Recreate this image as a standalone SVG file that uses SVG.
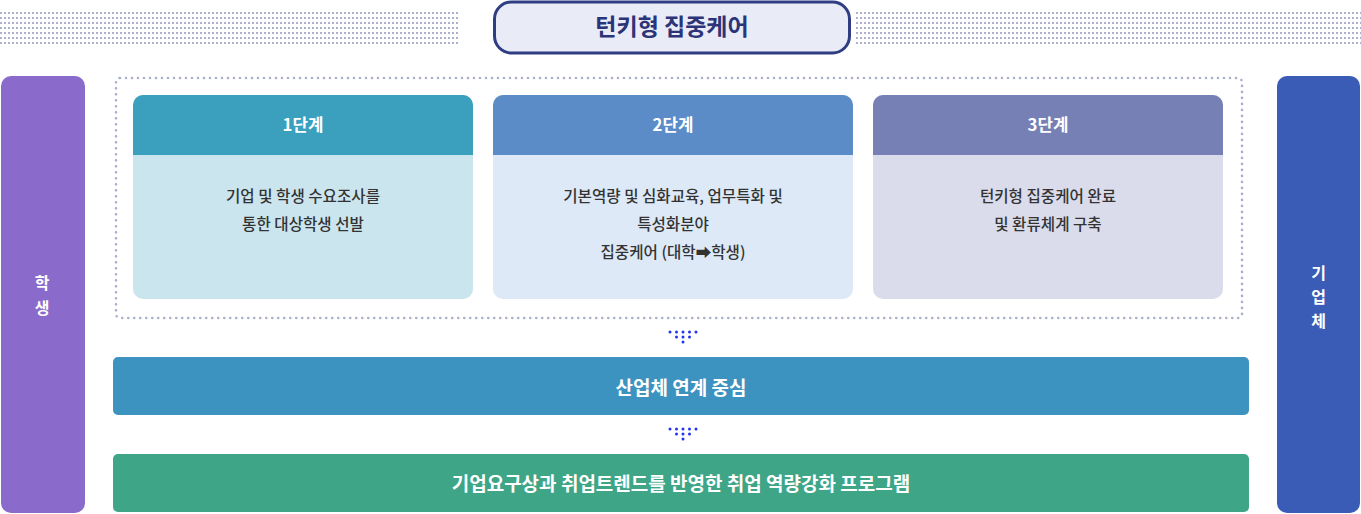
<svg xmlns="http://www.w3.org/2000/svg" width="1361" height="514" viewBox="0 0 1361 514">
<style>
.t{font-family:"Noto Sans CJK KR","Noto Sans",sans-serif;text-anchor:middle}
.hd{font-size:16.8px;font-weight:700;fill:#ffffff}
.bd{font-size:15.6px;font-weight:500;fill:#333333}
.bar{font-size:19px;font-weight:700;fill:#ffffff}
.side{font-size:16px;font-weight:700;fill:#ffffff}
.ad{fill:#2233ee}
</style>
<defs>
<pattern id="dots" x="0" y="12" width="4" height="5" patternUnits="userSpaceOnUse">
<rect x="0" y="0" width="2" height="2" fill="#abb0cf"/>
</pattern>
</defs>
<rect width="1361" height="514" fill="#ffffff"/>
<g id="title">
<rect x="0" y="12" width="460" height="33" fill="url(#dots)"/>
<rect x="855" y="12" width="506" height="33" fill="url(#dots)"/>
<rect x="494.5" y="2" width="355" height="51" rx="17" fill="#e9ebf6" stroke="#2f3d83" stroke-width="3"/>
<text class="t" x="672" y="35" font-size="23" font-weight="700" fill="#2b3478">턴키형 집중케어</text>
</g>
<g id="student">
<rect x="1" y="76" width="84" height="437" rx="10" fill="#8a6bcb"/>
<text class="t side" x="42" y="289">학</text>
<text class="t side" x="42" y="314">생</text>
</g>
<g id="company">
<rect x="1277" y="76" width="83" height="437" rx="10" fill="#3a5bb6"/>
<text class="t side" x="1318.5" y="279">기</text>
<text class="t side" x="1318.5" y="303">업</text>
<text class="t side" x="1318.5" y="327">체</text>
</g>
<g id="container">
<rect x="116" y="78" width="1126" height="240" rx="4" fill="none" stroke="#a8aecb" stroke-width="2.6" stroke-linecap="round" stroke-dasharray="0 6"/>
</g>
<g id="step1">
<rect x="133" y="95" width="340" height="204" rx="10" fill="#cbe5ef"/>
<path d="M133 155 V105 a10 10 0 0 1 10 -10 H463 a10 10 0 0 1 10 10 V155 Z" fill="#3aa0be"/>
<text class="t hd" x="303" y="131">1단계</text>
<text class="t bd" x="303" y="202">기업 및 학생 수요조사를</text>
<text class="t bd" x="303" y="230">통한 대상학생 선발</text>
</g>
<g id="step2">
<rect x="493" y="95" width="360" height="204" rx="10" fill="#dde9f7"/>
<path d="M493 155 V105 a10 10 0 0 1 10 -10 H843 a10 10 0 0 1 10 10 V155 Z" fill="#5b8cc8"/>
<text class="t hd" x="673" y="131">2단계</text>
<text class="t bd" x="673" y="202">기본역량 및 심화교육, 업무특화 및</text>
<text class="t bd" x="673" y="230">특성화분야</text>
<text class="t bd" x="673" y="258">집중케어 (대학➡학생)</text>
</g>
<g id="step3">
<rect x="873" y="95" width="350" height="204" rx="10" fill="#dadcec"/>
<path d="M873 155 V105 a10 10 0 0 1 10 -10 H1213 a10 10 0 0 1 10 10 V155 Z" fill="#7780b4"/>
<text class="t hd" x="1048" y="131">3단계</text>
<text class="t bd" x="1048" y="202">턴키형 집중케어 완료</text>
<text class="t bd" x="1048" y="230">및 환류체계 구축</text>
</g>
<g id="connectors">
<g class="ad">
<circle cx="670" cy="332" r="1.5"/><circle cx="676.5" cy="332" r="1.5"/><circle cx="683" cy="332" r="1.5"/><circle cx="689.5" cy="332" r="1.5"/><circle cx="696" cy="332" r="1.5"/>
<circle cx="676.5" cy="337" r="1.5"/><circle cx="683" cy="337" r="1.5"/><circle cx="689.5" cy="337" r="1.5"/>
<circle cx="683" cy="342" r="1.5"/>
</g>
<g class="ad">
<circle cx="670" cy="429" r="1.5"/><circle cx="676.5" cy="429" r="1.5"/><circle cx="683" cy="429" r="1.5"/><circle cx="689.5" cy="429" r="1.5"/><circle cx="696" cy="429" r="1.5"/>
<circle cx="676.5" cy="434" r="1.5"/><circle cx="683" cy="434" r="1.5"/><circle cx="689.5" cy="434" r="1.5"/>
<circle cx="683" cy="439" r="1.5"/>
</g>
</g>
<g id="industry">
<rect x="113" y="357" width="1136" height="58" rx="5" fill="#3d93c0"/>
<text class="t bar" x="681" y="394.5">산업체 연계 중심</text>
</g>
<g id="program">
<rect x="113" y="454" width="1136" height="58" rx="5" fill="#3ea586"/>
<text class="t bar" x="681" y="490.5">기업요구상과 취업트렌드를 반영한 취업 역량강화 프로그램</text>
</g>
</svg>
